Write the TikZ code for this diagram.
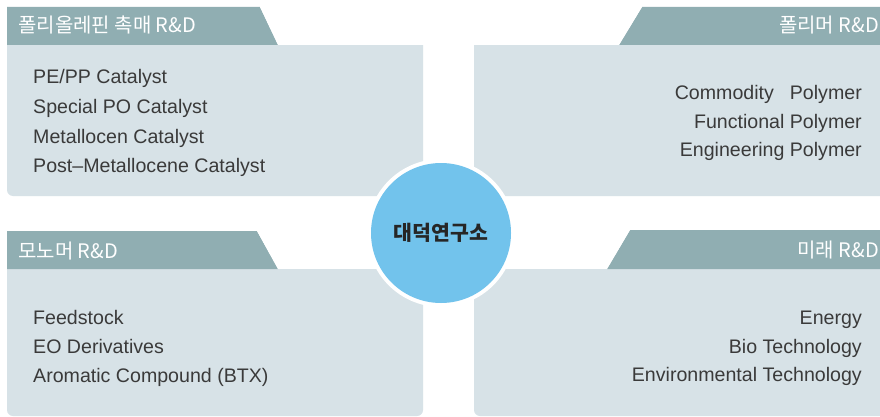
\documentclass[tikz,border=0pt]{standalone}
\usepackage{fontspec}
\setmainfont{Noto Sans CJK KR}
\newfontfamily\latinfont{Liberation Sans}
\usetikzlibrary{positioning}
\definecolor{tabc}{HTML}{90AEB2}
\definecolor{panelc}{HTML}{D7E2E7}
\definecolor{circc}{HTML}{72C3EC}
\definecolor{txtc}{HTML}{3A3A3A}
\tikzset{
  panel/.style={fill=panelc, draw=none, rounded corners=6pt},
  tabshape/.style={fill=tabc, draw=none},
  tabtext/.style={text=white, font=\fontsize{20}{22}\selectfont, inner sep=0pt},
  item/.style={text=txtc, font=\latinfont\fontsize{19.6}{22}\selectfont, inner sep=0pt},
}
\begin{document}
\begin{tikzpicture}[x=1pt,y=-1pt]
\useasboundingbox (0,0) rectangle (880,417);
\fill[white] (0,0) rectangle (880,417);
% panels
\fill[panel] (7,30) rectangle (423,196);
\fill[panel] (474,30) rectangle (890,196);
\fill[panel] (7,255) rectangle (423,416);
\fill[panel] (474,255) rectangle (890,416);
% tabs
\fill[tabshape] (7,7) -- (260,7) -- (278,45) -- (7,45) -- cycle;
\fill[tabshape] (7,231) -- (257,231) -- (278,269) -- (7,269) -- cycle;
\fill[tabshape] (642,7) -- (880,7) -- (880,45) -- (619,45) -- cycle;
\fill[tabshape] (630,230) -- (880,230) -- (880,269) -- (607,269) -- cycle;
% cover panel tops above tabs
\fill[white] (278,0) -- (278,45) -- (260,7) -- (260,0) -- cycle;
\fill[white] (278,0) rectangle (619,45);
\fill[white] (619,45) -- (642,7) -- (642,0) -- (619,0) -- cycle;
\fill[white] (278,220) -- (278,269) -- (257,231) -- (257,220) -- cycle;
\fill[white] (278,220) rectangle (607,269);
\fill[white] (607,269) -- (630,230) -- (630,220) -- (607,220) -- cycle;
% tab labels
\node[tabtext, anchor=base west] (t1) at (18,33) {폴리올레핀 촉매 R\&D};
\node[tabtext, anchor=base east] (t2) at (879,33) {폴리머 R\&D};
\node[tabtext, anchor=base west] (t3) at (18,258) {모노머 R\&D};
\node[tabtext, anchor=base east] (t4) at (879,257) {미래 R\&D};
% items
\node[item, anchor=base west] (a1) at (33,84) {PE/PP Catalyst};
\node[item, anchor=base west] (a2) at (33,113.5) {Special PO Catalyst};
\node[item, anchor=base west] (a3) at (33,143) {Metallocen Catalyst};
\node[item, anchor=base west] (a4) at (33,172.5) {Post–Metallocene Catalyst};
\node[item, anchor=base east] (b1) at (862,100) {Commodity\hspace{16pt}Polymer};
\node[item, anchor=base east] (b2) at (862,128.5) {Functional Polymer};
\node[item, anchor=base east] (b3) at (862,157) {Engineering Polymer};
\node[item, anchor=base west] (c1) at (33,324.5) {Feedstock};
\node[item, anchor=base west] (c2) at (33,353) {EO Derivatives};
\node[item, anchor=base west] (c3) at (33,382) {Aromatic Compound (BTX)};
\node[item, anchor=base east] (d1) at (862,324.5) {Energy};
\node[item, anchor=base east] (d2) at (862,353) {Bio Technology};
\node[item, anchor=base east] (d3) at (862,381.5) {Environmental Technology};
% center circle
\fill[white] (441,233) circle (74);
\node[circle, fill=circc, minimum size=140pt, inner sep=0pt, text=black!85,
  font=\fontsize{20.5}{22}\bfseries\selectfont] (hub) at (441,233) {대덕연구소};
\end{tikzpicture}
\end{document}
